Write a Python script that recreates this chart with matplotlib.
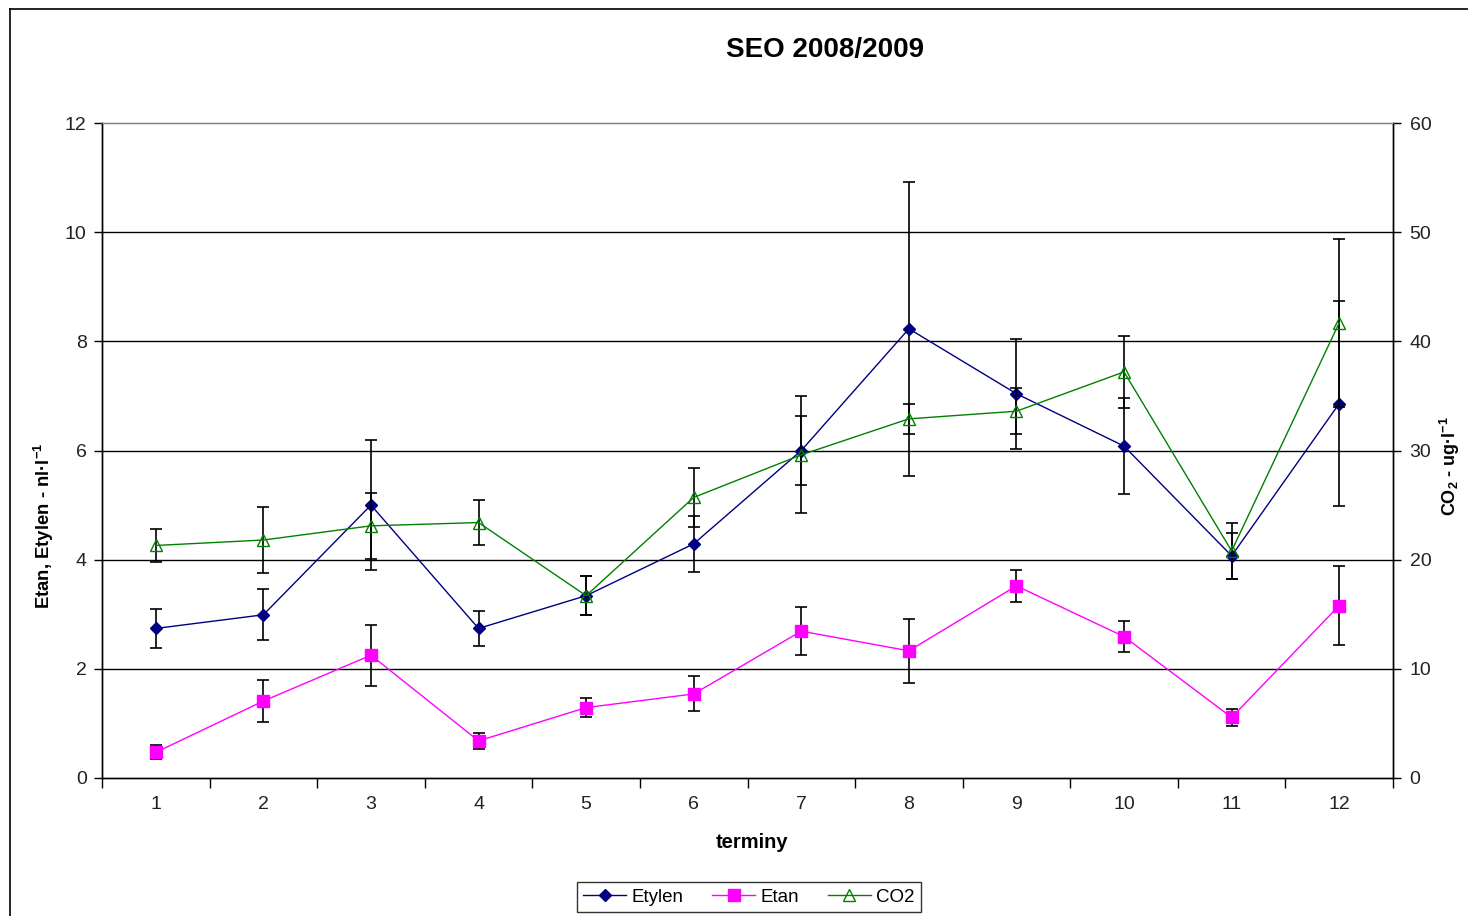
import matplotlib
matplotlib.use("Agg")
import matplotlib.pyplot as plt
from matplotlib.lines import Line2D
import numpy as np

plt.rcParams['font.family'] = ['Liberation Sans', 'DejaVu Sans']
plt.rcParams['mathtext.fontset'] = 'custom'
plt.rcParams['mathtext.rm'] = 'Liberation Sans:bold'
plt.rcParams['mathtext.default'] = 'rm'

# Sampling dates (terminy)
terminy = [1, 2, 3, 4, 5, 6, 7, 8, 9, 10, 11, 12]

# Ethylene and ethane, nl/l (left axis)
etylen = [2.74, 2.99, 5.00, 2.74, 3.34, 4.29, 6.00, 8.23, 7.04, 6.08, 4.07, 6.86]
etylen_err = [0.36, 0.47, 1.19, 0.32, 0.36, 0.51, 0.64, 2.69, 1.01, 0.88, 0.42, 1.87]
etan = [0.47, 1.41, 2.25, 0.68, 1.29, 1.54, 2.69, 2.33, 3.52, 2.59, 1.11, 3.16]
etan_err = [0.13, 0.38, 0.56, 0.14, 0.18, 0.32, 0.44, 0.59, 0.29, 0.29, 0.16, 0.72]

# CO2, ug/l (right axis)
co2 = [21.3, 21.8, 23.1, 23.4, 16.7, 25.7, 29.6, 32.9, 33.6, 37.2, 20.8, 41.7]
co2_err = [1.5, 3.0, 3.05, 2.1, 1.8, 2.7, 5.35, 1.4, 2.1, 3.3, 2.6, 7.7]

left_ticks = [0, 2, 4, 6, 8, 10, 12]
right_ticks = [0, 10, 20, 30, 40, 50, 60]

C_ETYLEN = '#000080'
C_ETAN = '#FF00FF'
C_CO2 = '#008000'

W, H = 1468, 916
fig = plt.figure(figsize=(W / 100, H / 100), dpi=100)
fig.patch.set_facecolor('white')

x0, x1, y0, y1 = 102, 1393, 123, 778
ax = fig.add_axes([x0 / W, 1 - y1 / H, (x1 - x0) / W, (y1 - y0) / H])
ax2 = ax.twinx()

tick_fs = 14
lab_fs = 14.5

# Left axis series
ax.errorbar(terminy, etylen, yerr=etylen_err, fmt='none', ecolor='black',
            elinewidth=1.2, capsize=4.5, capthick=1.2, zorder=3)
ax.errorbar(terminy, etan, yerr=etan_err, fmt='none', ecolor='black',
            elinewidth=1.2, capsize=4.5, capthick=1.2, zorder=3)
l_ety, = ax.plot(terminy, etylen, color=C_ETYLEN, lw=1.0, marker='D', ms=6.5,
                 mfc=C_ETYLEN, mec=C_ETYLEN, zorder=4, label='Etylen')
l_etan, = ax.plot(terminy, etan, color=C_ETAN, lw=1.0, marker='s', ms=8.5,
                  mfc=C_ETAN, mec=C_ETAN, zorder=4, label='Etan')

# Right axis series
ax2.errorbar(terminy, co2, yerr=co2_err, fmt='none', ecolor='black',
             elinewidth=1.2, capsize=4.5, capthick=1.2, zorder=3)
l_co2, = ax2.plot(terminy, co2, color=C_CO2, lw=1.0, marker='^', ms=8.5,
                  mfc='none', mec=C_CO2, mew=1.0, zorder=4, label='CO2')

# Axes limits and ticks
ax.set_xlim(0.5, 12.5)
ax.set_ylim(0, 12)
ax2.set_ylim(0, 60)
ax.set_yticks(left_ticks)
ax2.set_yticks(right_ticks)
ax.set_xticks(terminy)
ax.set_xticks(np.arange(0.5, 13, 1.0), minor=True)
ax.tick_params(axis='x', which='major', length=0, pad=13, labelsize=tick_fs,
               colors='#222222')
ax.tick_params(axis='x', which='minor', length=7, width=1.0, direction='out',
               color='black')
ax.tick_params(axis='y', which='major', length=6, width=1.0, direction='out',
               labelsize=tick_fs, pad=5, labelcolor='#222222')
ax2.tick_params(axis='y', which='major', length=6, width=1.0, direction='out',
                labelsize=tick_fs, pad=6, labelcolor='#222222')

# Horizontal gridlines
for v in left_ticks[1:-1]:
    ax.axhline(v, color='black', lw=1.0, zorder=1)

for sp in ax.spines.values():
    sp.set_linewidth(1.0)
ax.spines['top'].set_color('#808080')
ax2.spines['top'].set_color('#808080')
for name in ['left', 'right', 'bottom']:
    ax2.spines[name].set_color('black')
    ax2.spines[name].set_linewidth(1.0)

# Titles and labels
fig.text(825 / W, 1 - 50 / H, 'SEO 2008/2009', ha='center', va='center',
         fontsize=20, fontweight='bold')
fig.text(752 / W, 1 - 843 / H, 'terminy', ha='center', va='center',
         fontsize=lab_fs, fontweight='bold')
fig.text(44 / W, 1 - 526 / H, 'Etan, Etylen - nl·l$^{-1}$', ha='center',
         va='center', rotation=90, fontsize=13.3, fontweight='bold')
fig.text(1450 / W, 1 - 466 / H, 'CO$_2$ - ug·l$^{-1}$', ha='center',
         va='center', rotation=90, fontsize=13, fontweight='bold')

# Legend below the chart
leg = fig.legend(handles=[l_ety, l_etan, l_co2], loc='center',
                 bbox_to_anchor=(749 / W, 1 - 897 / H), ncol=3,
                 fontsize=13.5, frameon=True, fancybox=False, handlelength=2.3,
                 handletextpad=0.3, columnspacing=1.5, borderpad=0.35)
leg.get_frame().set_edgecolor('black')
leg.get_frame().set_linewidth(1.0)

# Chart border (left and top edges)
fig.add_artist(Line2D([10 / W, 10 / W], [0, 1 - 9 / H], color='black',
                      lw=1.2, transform=fig.transFigure))
fig.add_artist(Line2D([10 / W, 1], [1 - 9 / H, 1 - 9 / H], color='black',
                      lw=1.2, transform=fig.transFigure))

fig.savefig('out.png', dpi=100, facecolor='white')
